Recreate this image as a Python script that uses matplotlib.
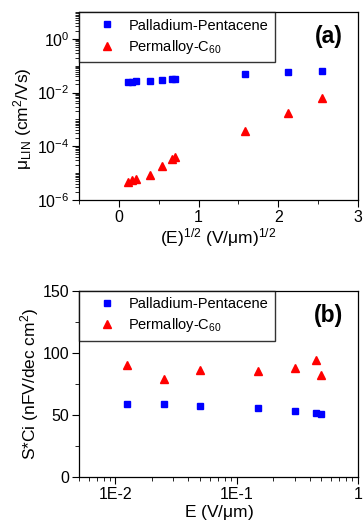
import math

import matplotlib
matplotlib.use("Agg")
import matplotlib.pyplot as plt
from matplotlib.ticker import MultipleLocator, FixedLocator, FuncFormatter, LogLocator, NullFormatter

plt.rcParams["font.family"] = ["Liberation Sans", "DejaVu Sans"]
plt.rcParams["mathtext.fontset"] = "custom"
plt.rcParams["mathtext.rm"] = "Liberation Sans"
plt.rcParams["mathtext.it"] = "Liberation Sans:italic"

# panel (a): mobility vs sqrt(E)
sqrtE_a = [0.11, 0.16, 0.22, 0.385, 0.545, 0.665, 0.70, 1.58, 2.12, 2.55]
mu_pd = [0.0247, 0.0247, 0.026, 0.027, 0.030, 0.033, 0.033, 0.050, 0.056, 0.062]
mu_py = [4.5e-6, 5.7e-6, 6.2e-6, 8.5e-6, 1.9e-5, 3.4e-5, 4.0e-5, 3.7e-4, 1.8e-3, 6.1e-3]

# panel (b): S*Ci vs E
E_b = [0.0125, 0.025, 0.05, 0.15, 0.3, 0.45, 0.5]
sci_pd = [58.9, 58.9, 57.3, 55.4, 53.3, 52.0, 50.9]
sci_py = [90.0, 78.8, 86.3, 85.2, 88.1, 94.3, 82.5]

BLUE = "#0000ff"
RED = "#ff0000"
LABELS = ["Palladium-Pentacene", "Permalloy-C$_{60}$"]

fig = plt.figure(figsize=(3.63, 5.22), dpi=100)
ax_a = fig.add_axes([0.2176, 0.617, 0.7686, 0.360])
ax_b = fig.add_axes([0.2176, 0.0856, 0.7686, 0.3575])


def style(ax):
    ax.tick_params(which="major", direction="out", length=5, width=0.8,
                   labelsize=11.5, top=False, right=False, pad=2)
    ax.tick_params(which="minor", direction="out", length=3, width=0.6,
                   top=False, right=False)
    for s in ax.spines.values():
        s.set_linewidth(0.9)


def add_legend(ax):
    ax.legend(loc="upper left", bbox_to_anchor=(0.0, 1.0), fontsize=10.5,
              frameon=True, fancybox=False, edgecolor="black", borderaxespad=0,
              handletextpad=0.0, borderpad=0.45, labelspacing=0.35, handlelength=2.93)


# (a)
ax_a.plot(sqrtE_a, mu_pd, "s", color=BLUE, ms=5, label=LABELS[0])
ax_a.plot(sqrtE_a, mu_py, "^", color=RED, ms=6, label=LABELS[1])
ax_a.set_yscale("log")
ax_a.set_xlim(-0.5, 3)
ax_a.set_ylim(1e-6, 10)
ax_a.xaxis.set_major_locator(MultipleLocator(1))
ax_a.xaxis.set_minor_locator(MultipleLocator(0.5))
ax_a.yaxis.set_major_locator(FixedLocator([1e-6, 1e-4, 1e-2, 1e0]))
ax_a.yaxis.set_major_formatter(FuncFormatter(lambda v, p: r"10$^{%d}$" % round(math.log10(v))))
ax_a.yaxis.set_minor_locator(LogLocator(base=10, subs=range(1, 10), numticks=20))
ax_a.yaxis.set_minor_formatter(NullFormatter())
ax_a.set_xlabel(r"(E)$^{1/2}$ (V/$\mathregular{\mu}$m)$^{1/2}$", fontsize=12.5, labelpad=1)
ax_a.set_ylabel(r"$\mathregular{\mu_{LIN}}$ (cm$^2$/Vs)", fontsize=12.5)
ax_a.yaxis.set_label_coords(-0.16, 0.43)
style(ax_a)
ax_a.text(0.945, 0.93, "(a)", transform=ax_a.transAxes, ha="right", va="top",
          fontsize=16.5, fontweight="bold")
add_legend(ax_a)

# (b)
ax_b.plot(E_b, sci_pd, "s", color=BLUE, ms=5, label=LABELS[0])
ax_b.plot(E_b, sci_py, "^", color=RED, ms=6, label=LABELS[1])
ax_b.set_xscale("log")
ax_b.set_xlim(0.005, 1)
ax_b.set_ylim(0, 150)
ax_b.yaxis.set_major_locator(MultipleLocator(50))
ax_b.yaxis.set_minor_locator(MultipleLocator(25))
ax_b.xaxis.set_major_locator(FixedLocator([0.01, 0.1, 1]))
ax_b.xaxis.set_major_formatter(FuncFormatter(lambda v, p: {0.01: "1E-2", 0.1: "1E-1", 1: "1"}.get(round(v, 4), "")))
ax_b.xaxis.set_minor_locator(LogLocator(base=10, subs=range(2, 10), numticks=20))
ax_b.xaxis.set_minor_formatter(NullFormatter())
ax_b.set_xlabel(r"E (V/$\mathregular{\mu}$m)", fontsize=12.5, labelpad=1)
ax_b.set_ylabel("S*Ci (nFV/dec cm$^2$)", fontsize=12.5, labelpad=1)
style(ax_b)
ax_b.text(0.945, 0.93, "(b)", transform=ax_b.transAxes, ha="right", va="top",
          fontsize=16.5, fontweight="bold")
add_legend(ax_b)

fig.savefig("out.png", dpi=100)
